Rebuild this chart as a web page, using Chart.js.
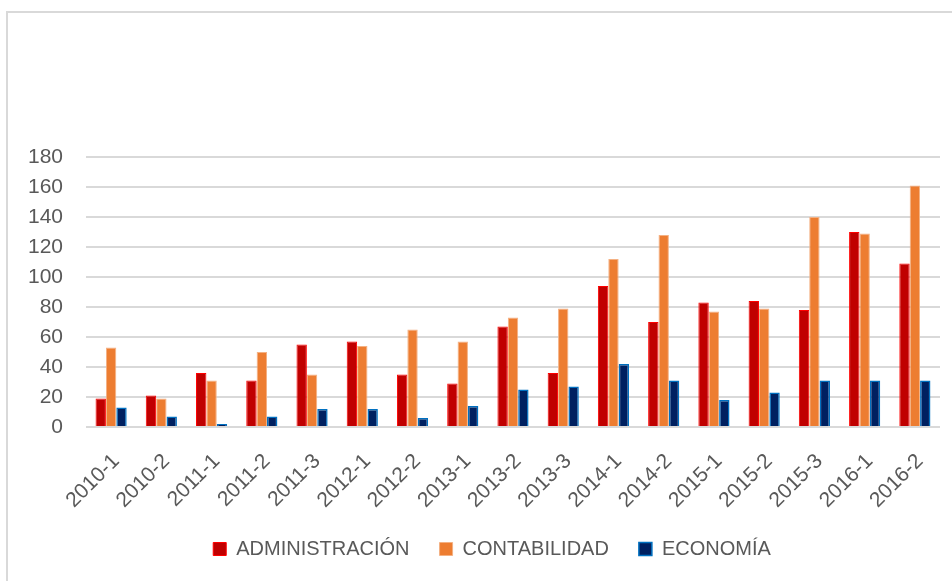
<!DOCTYPE html>
<html>
<head>
<meta charset="utf-8">
<script src="https://cdn.jsdelivr.net/npm/chart.js@4"></script>
<style>
  body { margin: 0; background: #fff; }
  #frame {
    position: absolute; left: 6px; top: 11px; width: 960px; height: 590px;
    border-left: 2px solid #d9d9d9; border-top: 2px solid #d9d9d9;
  }
  #wrap { position: absolute; left: 0; top: 0; width: 944px; height: 568px; }
</style>
</head>
<body>
<div id="frame"><div id="wrap"><canvas id="barChart"></canvas></div></div>
<script>
// periods and values per career
const periods = ["2010-1", "2010-2", "2011-1", "2011-2", "2011-3", "2012-1", "2012-2", "2013-1", "2013-2",
  "2013-3", "2014-1", "2014-2", "2015-1", "2015-2", "2015-3", "2016-1", "2016-2"];
const administracion = [19, 21, 36, 31, 55, 57, 35, 29, 67, 36, 94, 70, 83, 84, 78, 130, 109];
const contabilidad = [53, 19, 31, 50, 35, 54, 65, 57, 73, 79, 112, 128, 77, 79, 140, 129, 161];
const economia = [13, 7, 2, 7, 12, 12, 6, 14, 25, 27, 42, 31, 18, 23, 31, 31, 31];

const FONT = "'Liberation Sans', Arial, sans-serif";
const GREY = "#595959";

// legend sits a bit right of the canvas centre in the original
const shiftLegend = {
  id: "shiftLegend",
  afterLayout(chart) {
    chart.legend.left += 18;
    chart.legend.right += 18;
  }
};

new Chart(document.getElementById("barChart"), {
  type: "bar",
  data: {
    labels: periods,
    datasets: [
      {
        label: "ADMINISTRACIÓN",
        data: administracion,
        backgroundColor: "#c00000",
        borderColor: "#ff0000",
        borderWidth: 1
      },
      {
        label: "CONTABILIDAD",
        data: contabilidad,
        backgroundColor: "#ed7d31",
        borderColor: "#f4b183",
        borderWidth: 1
      },
      {
        label: "ECONOMÍA",
        data: economia,
        backgroundColor: "#002060",
        borderColor: "#0070c0",
        borderWidth: 1.5
      }
    ]
  },
  plugins: [shiftLegend],
  options: {
    responsive: true,
    maintainAspectRatio: false,
    animation: false,
    categoryPercentage: 0.62,
    barPercentage: 1,
    layout: { padding: { top: 144, right: 12, left: 0, bottom: 12 } },
    plugins: {
      tooltip: { enabled: false },
      legend: {
        position: "bottom",
        labels: {
          font: { family: FONT, size: 20 },
          color: GREY,
          boxWidth: 13,
          boxHeight: 13,
          padding: 30
        }
      }
    },
    scales: {
      x: {
        grid: { display: false },
        border: { display: false },
        ticks: {
          font: { family: FONT, size: 21 },
          color: GREY,
          maxRotation: 45,
          minRotation: 45,
          padding: 14,
          labelOffset: 5
        },
        afterFit(scale) { scale.height = 82; }
      },
      y: {
        min: 0,
        max: 180,
        grid: { color: "#d9d9d9", lineWidth: 2, drawTicks: false },
        border: { display: false },
        ticks: {
          stepSize: 20,
          font: { family: FONT, size: 21 },
          color: GREY,
          padding: 23
        },
        afterFit(scale) { scale.width = 78; }
      }
    }
  }
});
</script>
</body>
</html>
